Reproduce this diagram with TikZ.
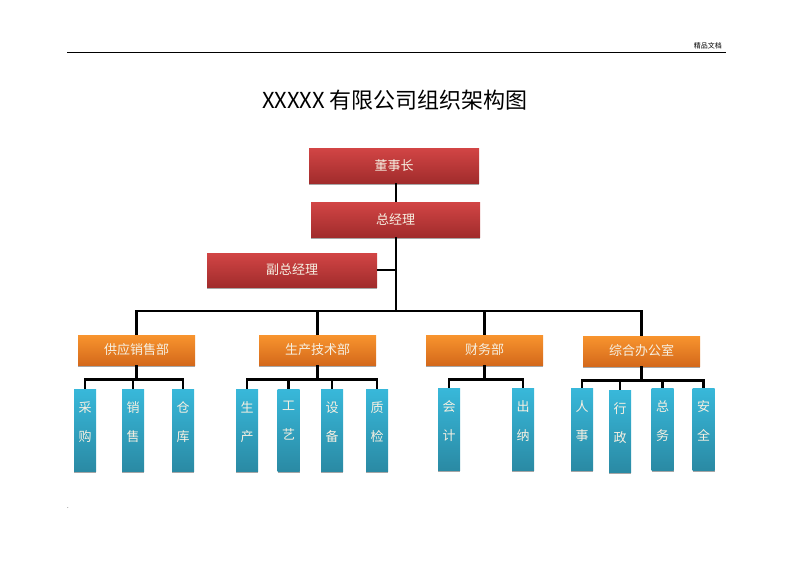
\documentclass[tikz,border=0pt]{standalone}
\usepackage{fontspec}
\setmainfont{Noto Sans CJK SC}
\usetikzlibrary{shadows}

\definecolor{redtop}{HTML}{D24545}
\definecolor{redbot}{HTML}{A12C2C}
\definecolor{orgtop}{HTML}{F8942E}
\definecolor{orgbot}{HTML}{D4691B}
\definecolor{bluetop}{HTML}{38B8DA}
\definecolor{bluebot}{HTML}{2A8AA4}
\definecolor{boxtxt}{HTML}{F6F0E2}

\tikzset{
  boss/.style={rectangle, inner sep=0pt, top color=redtop, bottom color=redbot,
    text=boxtxt, font=\fontsize{13}{15}\selectfont,
    drop shadow={shadow xshift=0pt, shadow yshift=-1.5pt, fill=black!35, opacity=1}},
  dept/.style={rectangle, inner sep=0pt, top color=orgtop, bottom color=orgbot,
    text=boxtxt, font=\fontsize{13}{15}\selectfont,
    minimum width=117pt, minimum height=30pt,
    drop shadow={shadow xshift=0pt, shadow yshift=-1.5pt, fill=black!35, opacity=1}},
  leaf/.style={rectangle, inner sep=0pt, top color=bluetop, bottom color=bluebot,
    minimum width=22pt, minimum height=82pt,
    drop shadow={shadow xshift=0pt, shadow yshift=-1.5pt, fill=black!35, opacity=1}},
  leaftxt/.style={inner sep=0pt, anchor=north, align=center, text=boxtxt,
    font=\fontsize{13}{29}\selectfont},
  link/.style={line width=2.6pt, line join=miter}
}

\begin{document}
\begin{tikzpicture}[x=1pt, y=-1pt]
\useasboundingbox (0,0) rectangle (792,560);
%header
\draw[line width=0.8pt] (67,52) coordinate (hl) -- (726,52) coordinate (hr);
\node[anchor=south east, inner sep=0pt, font=\fontsize{7}{8}\selectfont] (hdr) at (722,49) {精品文档};
\node[font=\fontsize{22}{26}\selectfont] (title) at (395,100) {XXXXX 有限公司组织架构图};
%
%top of the tree
\node[boss, minimum width=170pt, minimum height=35pt] (dsz) at (394,165.5) {董事长};
\node[boss, minimum width=169pt, minimum height=35pt] (zjl) at (395.5,219.5) {总经理};
\node[boss, minimum width=170pt, minimum height=34pt] (fzjl) at (292,270) {副总经理};
\draw[link] (dsz.south -| 396,0) -- (zjl.north -| 396,0);
\draw[link] (fzjl.east) -- (fzjl.east -| 396,0);
%
%departments
\node[dept] (gyxs) at (136.5,350) {供应销售部};
\node[dept] (scjs) at (317.5,350) {生产技术部};
\node[dept] (cwb) at (484.5,350) {财务部};
\node[dept] (zhbgs) at (641.5,351) {综合办公室};
\foreach \d in {gyxs,scjs,cwb,zhbgs}
  \draw[link] (zjl.south -| 396,0) -- (396,311) -| (\d.north);
%
%leaves: name/x/y/dept/upper char/lower char
\foreach \n/\x/\y/\d/\a/\b in {
    cg/85/430/gyxs/采/购, xs/133/430/gyxs/销/售, ck/183/430/gyxs/仓/库,
    sc/247/430/scjs/生/产, gy/288.5/430/scjs/工/艺, sb/332/430/scjs/设/备, zj/377/430/scjs/质/检,
    kj/449/429/cwb/会/计, cn/523/429.5/cwb/出/纳,
    rs/582/429/zhbgs/人/事, xz/620/431/zhbgs/行/政, zw/662.5/429/zhbgs/总/务, aq/703.5/429/zhbgs/安/全}{
  \node[leaf] (\n) at (\x,\y) {};
  \node[leaftxt] (\n txt) at ([yshift=-12.5pt]\n.north) {\a\\\b};
  \draw[link] (\d.south) -- ++(0,14) -| (\n.north);
}
%
\node[inner sep=0pt, font=\fontsize{6}{7}\selectfont] (dot) at (68,508) {.};
\end{tikzpicture}
\end{document}
